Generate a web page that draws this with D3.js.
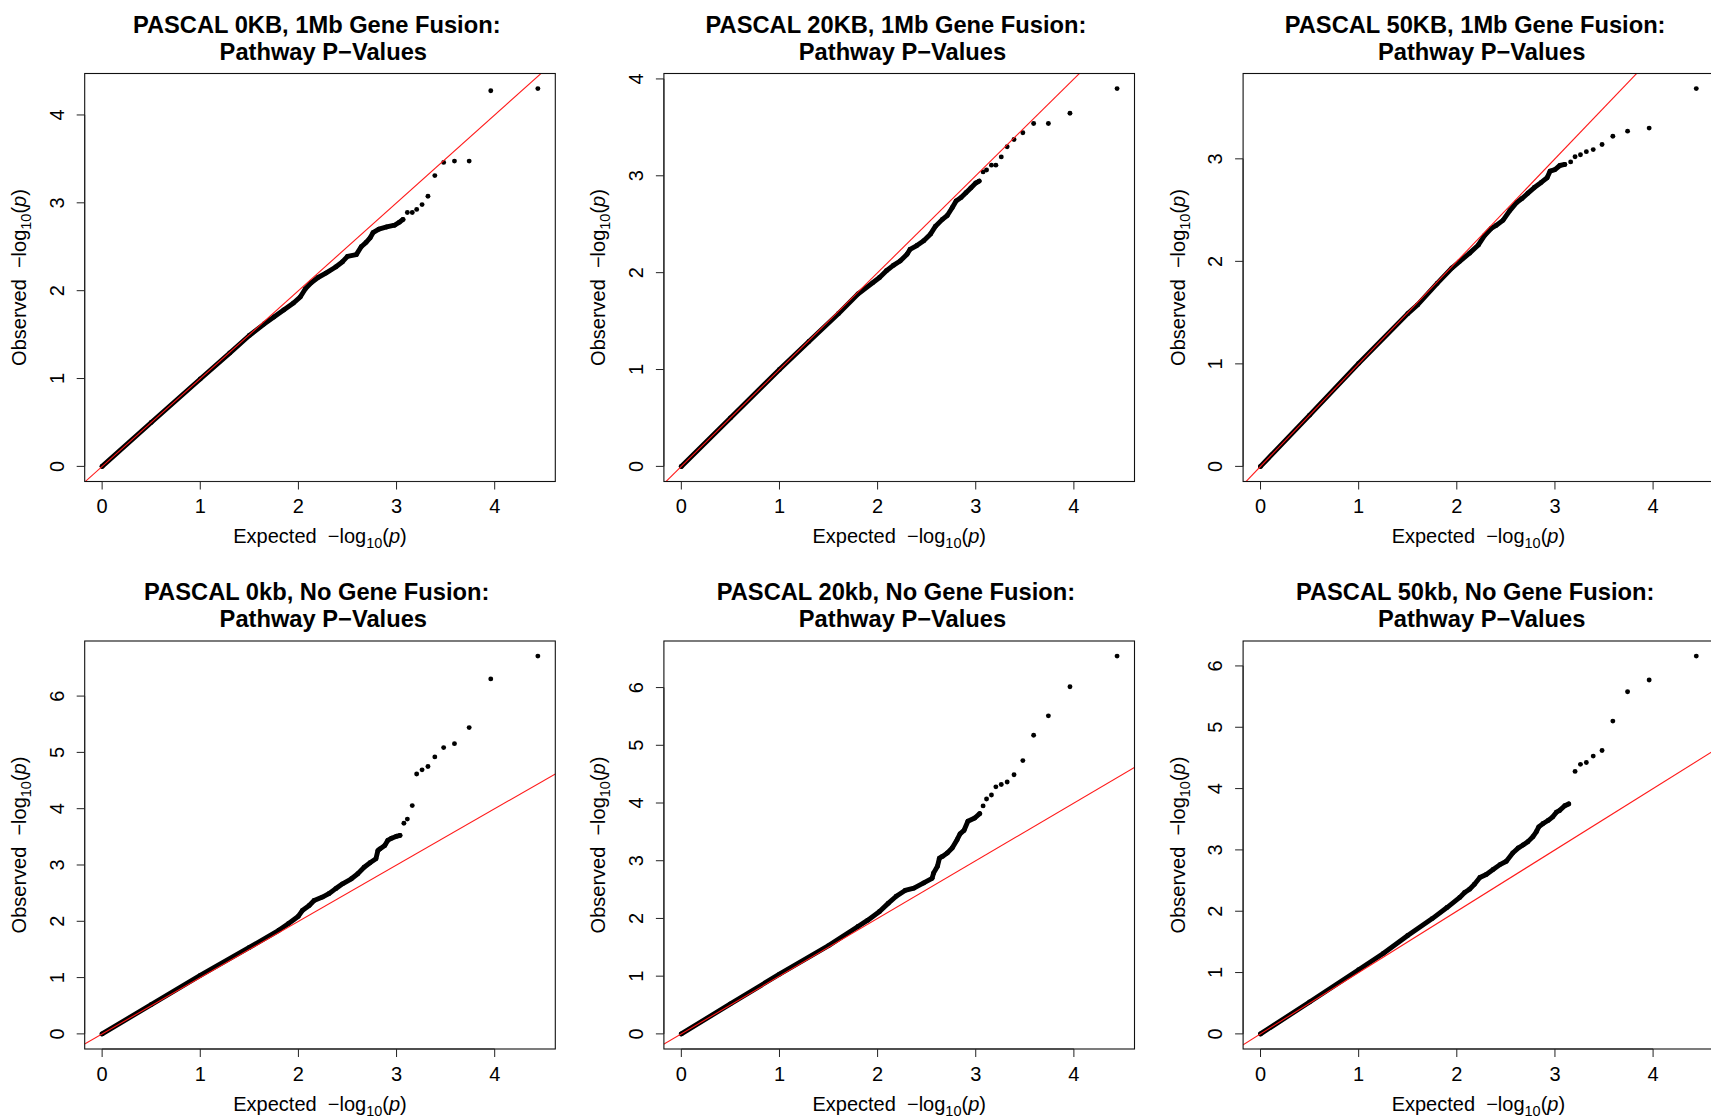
<!DOCTYPE html>
<html>
<head>
<meta charset="utf-8">
<script src="https://cdn.jsdelivr.net/npm/d3@7"></script>
<style>
  body { margin: 0; background: #fff; }
  svg { display: block; }
  text { font-family: "Liberation Sans", Arial, sans-serif; fill: #000; }
</style>
</head>
<body>
<div id="vis"></div>
<script>
(function(){
const width = 1711;
const height = 1120;

// titles, first line of each panel (second line is shared)
// (the R titles were "... Fusion: \n Pathway P-Values", spaces kept)
const titles = [
  "PASCAL 0KB, 1Mb Gene Fusion: ",
  "PASCAL 20KB, 1Mb Gene Fusion: ",
  "PASCAL 50KB, 1Mb Gene Fusion: ",
  "PASCAL 0kb, No Gene Fusion: ",
  "PASCAL 20kb, No Gene Fusion: ",
  "PASCAL 50kb, No Gene Fusion: "
];
const subtitle = " Pathway P\u2212Values";

const xTicks = [0, 1, 2, 3, 4];
const yTicks = [
  [0, 1, 2, 3, 4],
  [0, 1, 2, 3, 4],
  [0, 1, 2, 3],
  [0, 1, 2, 3, 4, 5, 6],
  [0, 1, 2, 3, 4, 5, 6],
  [0, 1, 2, 3, 4, 5, 6]
];

// expected -log10(p) of the top ranked (individually visible) points
const tailExpected = [4.44, 3.96, 3.74, 3.59, 3.48, 3.39, 3.32, 3.26, 3.205, 3.16, 3.11, 3.075];

// observed -log10(p) of those top points, per panel
const tail1 = [4.30, 4.275, 3.475, 3.475, 3.46, 3.31, 3.075, 2.98, 2.925, 2.89, 2.89];
const tail2 = [3.90, 3.645, 3.54, 3.54, 3.445, 3.375, 3.30, 3.195, 3.11, 3.11, 3.06, 3.04];
const tail3 = [3.685, 3.30, 3.27, 3.22, 3.14, 3.09, 3.07, 3.04, 3.02, 2.97];
const tail4 = [6.71, 6.305, 5.44, 5.155, 5.085, 4.92, 4.75, 4.69, 4.615, 4.055, 3.815, 3.74];
const tail5 = [6.545, 6.015, 5.51, 5.175, 4.735, 4.49, 4.365, 4.32, 4.28, 4.14, 4.07, 3.95];
const tail6 = [6.16, 5.77, 5.58, 5.10, 4.62, 4.53, 4.425, 4.395, 4.28];

// dense part of each QQ curve: [expected, observed]
const band1 = [[0,0],[0.5,0.5],[1.0,0.995],[1.3,1.29],[1.5,1.49],[1.65,1.62],[1.75,1.70],[1.85,1.78],[1.95,1.86],[2.02,1.93],[2.07,2.02],[2.13,2.09],[2.2,2.15],[2.28,2.20],[2.38,2.27],[2.45,2.33],[2.50,2.39],[2.59,2.41],[2.64,2.50],[2.69,2.55],[2.73,2.60],[2.76,2.66],[2.82,2.70],[2.90,2.725],[2.98,2.745],[3.03,2.78],[3.065,2.81]];
const band2 = [[0,0],[0.5,0.5],[1.0,1.0],[1.3,1.29],[1.6,1.575],[1.8,1.78],[1.95,1.895],[2.02,1.95],[2.09,2.02],[2.16,2.075],[2.23,2.12],[2.30,2.19],[2.33,2.24],[2.40,2.28],[2.47,2.33],[2.54,2.40],[2.59,2.48],[2.66,2.55],[2.71,2.59],[2.76,2.67],[2.80,2.74],[2.85,2.775],[2.90,2.825],[2.95,2.875],[3.0,2.925],[3.035,2.945]];
const band3 = [[0,0],[0.5,0.5],[1.0,1.005],[1.5,1.49],[1.6,1.575],[1.8,1.785],[1.95,1.935],[2.03,2.0],[2.13,2.08],[2.22,2.16],[2.285,2.255],[2.35,2.32],[2.40,2.35],[2.47,2.40],[2.54,2.495],[2.61,2.575],[2.66,2.61],[2.725,2.665],[2.79,2.72],[2.86,2.77],[2.92,2.815],[2.95,2.88],[3.0,2.895],[3.05,2.935],[3.10,2.945]];
const band4 = [[0,0],[0.5,0.52],[1.0,1.04],[1.5,1.535],[1.8,1.84],[1.9,1.96],[2.0,2.09],[2.04,2.19],[2.11,2.28],[2.16,2.37],[2.245,2.43],[2.31,2.49],[2.38,2.58],[2.45,2.665],[2.54,2.755],[2.605,2.845],[2.67,2.96],[2.73,3.04],[2.79,3.11],[2.81,3.255],[2.83,3.285],[2.88,3.345],[2.91,3.435],[2.95,3.475],[3.0,3.51],[3.035,3.525]];
const band5 = [[0,0],[0.5,0.52],[1.0,1.035],[1.5,1.53],[1.8,1.86],[1.9,1.97],[2.02,2.12],[2.11,2.265],[2.19,2.385],[2.28,2.485],[2.37,2.525],[2.47,2.615],[2.555,2.695],[2.57,2.785],[2.61,2.905],[2.63,3.045],[2.66,3.075],[2.71,3.135],[2.76,3.22],[2.81,3.365],[2.84,3.465],[2.88,3.525],[2.92,3.685],[2.99,3.74],[3.04,3.815]];
const band6 = [[0,0],[0.5,0.52],[1.0,1.045],[1.25,1.31],[1.5,1.605],[1.75,1.88],[1.9,2.06],[2.03,2.225],[2.08,2.305],[2.13,2.36],[2.18,2.44],[2.235,2.55],[2.30,2.60],[2.37,2.68],[2.44,2.76],[2.505,2.815],[2.57,2.95],[2.625,3.03],[2.675,3.08],[2.725,3.135],[2.775,3.215],[2.81,3.295],[2.835,3.375],[2.88,3.43],[2.93,3.48],[2.975,3.535],[3.015,3.615],[3.045,3.64],[3.10,3.72],[3.14,3.75]];

const tails = [tail1, tail2, tail3, tail4, tail5, tail6];
const bands = [band1, band2, band3, band4, band5, band6];

const boxLeft = 84.7, boxTop = 73.5;
const boxW = 470.6, boxH = 408;
const colStep = 579.2, rowStep = 567.5;
const dotR = 2.45;
const axisFont = "20px";
const titleFont = "23.7px";

const svg = d3.select("#vis")
  .append("svg")
  .attr("width", width)
  .attr("height", height);

svg.append("defs");

function logLabel(sel, word) {
  sel.append("tspan").text(word + "  \u2212log");
  sel.append("tspan").attr("font-size", "14.5px").attr("dy", 5).text("10");
  sel.append("tspan").attr("dy", -5).text("(");
  sel.append("tspan").attr("font-style", "italic").text("p");
  sel.append("tspan").text(")");
}

// R style range + 4% padding
function padded(lo, hi) {
  const r = hi - lo;
  return [lo - 0.04 * r, hi + 0.04 * r];
}

titles.forEach((title, k) => {
  const col = k % 3, row = Math.floor(k / 3);
  const x0 = boxLeft + col * colStep;
  const y0 = boxTop + row * rowStep;

  const tail = tails[k];
  const band = bands[k];
  const pts = tail.map((v, i) => [tailExpected[i], v]);
  const all = band.concat(pts);

  const x = d3.scaleLinear()
    .domain(padded(d3.min(all, d => d[0]), d3.max(all, d => d[0])))
    .range([x0, x0 + boxW]);
  const y = d3.scaleLinear()
    .domain(padded(d3.min(all, d => d[1]), d3.max(all, d => d[1])))
    .range([y0 + boxH, y0]);

  const g = svg.append("g");

  // clip for the reference line
  const clipId = "clip" + k;
  svg.select("defs").append("clipPath").attr("id", clipId)
    .append("rect")
    .attr("x", x0).attr("y", y0)
    .attr("width", boxW).attr("height", boxH);

  // dense part drawn as a thick run of dots
  g.append("path")
    .datum(band)
    .attr("d", d3.line().x(d => x(d[0])).y(d => y(d[1])))
    .attr("fill", "none")
    .attr("stroke", "#000")
    .attr("stroke-width", dotR * 2)
    .attr("stroke-linecap", "round")
    .attr("stroke-linejoin", "round");

  g.selectAll("circle.pt")
    .data(all)
    .enter().append("circle")
    .attr("class", "pt")
    .attr("cx", d => x(d[0]))
    .attr("cy", d => y(d[1]))
    .attr("r", dotR)
    .attr("fill", "#000");

  // y = x line
  const lo = Math.min(x.domain()[0], y.domain()[0]) - 1;
  const hi = Math.max(x.domain()[1], y.domain()[1]) + 1;
  g.append("line")
    .attr("clip-path", "url(#" + clipId + ")")
    .attr("x1", x(lo)).attr("y1", y(lo))
    .attr("x2", x(hi)).attr("y2", y(hi))
    .attr("stroke", "#ff1a1a")
    .attr("stroke-width", 1.1);

  // box
  g.append("rect")
    .attr("x", x0).attr("y", y0)
    .attr("width", boxW).attr("height", boxH)
    .attr("fill", "none")
    .attr("stroke", "#111")
    .attr("stroke-width", 1.1);

  // x axis
  const xa = g.append("g").attr("transform", "translate(0," + (y0 + boxH) + ")");
  xa.append("line")
    .attr("x1", x(xTicks[0])).attr("x2", x(xTicks[xTicks.length - 1]))
    .attr("stroke", "#222");
  xa.selectAll("line.tk").data(xTicks).enter().append("line")
    .attr("class", "tk")
    .attr("x1", d => x(d)).attr("x2", d => x(d))
    .attr("y1", 0).attr("y2", 8)
    .attr("stroke", "#222");
  xa.selectAll("text").data(xTicks).enter().append("text")
    .attr("x", d => x(d))
    .attr("y", 31.5)
    .attr("text-anchor", "middle")
    .attr("font-size", axisFont)
    .text(d => d);

  // y axis
  const yt = yTicks[k];
  const ya = g.append("g").attr("transform", "translate(" + x0 + ",0)");
  ya.append("line")
    .attr("y1", y(yt[0])).attr("y2", y(yt[yt.length - 1]))
    .attr("stroke", "#222");
  ya.selectAll("line.tk").data(yt).enter().append("line")
    .attr("class", "tk")
    .attr("y1", d => y(d)).attr("y2", d => y(d))
    .attr("x1", 0).attr("x2", -8)
    .attr("stroke", "#222");
  ya.selectAll("text").data(yt).enter().append("text")
    .attr("transform", d => "translate(-21," + y(d) + ") rotate(-90)")
    .attr("text-anchor", "middle")
    .attr("font-size", axisFont)
    .text(d => d);

  // axis titles
  const xl = g.append("text")
    .attr("x", x0 + boxW / 2)
    .attr("y", y0 + boxH + 61.7)
    .attr("text-anchor", "middle")
    .attr("font-size", axisFont)
    .style("white-space", "pre");
  logLabel(xl, "Expected");

  const yl = g.append("text")
    .attr("transform", "translate(" + (x0 - 58.5) + "," + (y0 + boxH / 2) + ") rotate(-90)")
    .attr("text-anchor", "middle")
    .attr("font-size", axisFont)
    .style("white-space", "pre");
  logLabel(yl, "Observed");

  // main title
  g.append("text")
    .attr("x", x0 + boxW / 2)
    .attr("y", y0 - 41)
    .attr("text-anchor", "middle")
    .attr("font-size", titleFont)
    .attr("font-weight", "bold")
    .style("white-space", "pre")
    .text(title);
  g.append("text")
    .attr("x", x0 + boxW / 2)
    .attr("y", y0 - 14)
    .attr("text-anchor", "middle")
    .attr("font-size", titleFont)
    .attr("font-weight", "bold")
    .style("white-space", "pre")
    .text(subtitle);
});
})();
</script>
</body>
</html>
